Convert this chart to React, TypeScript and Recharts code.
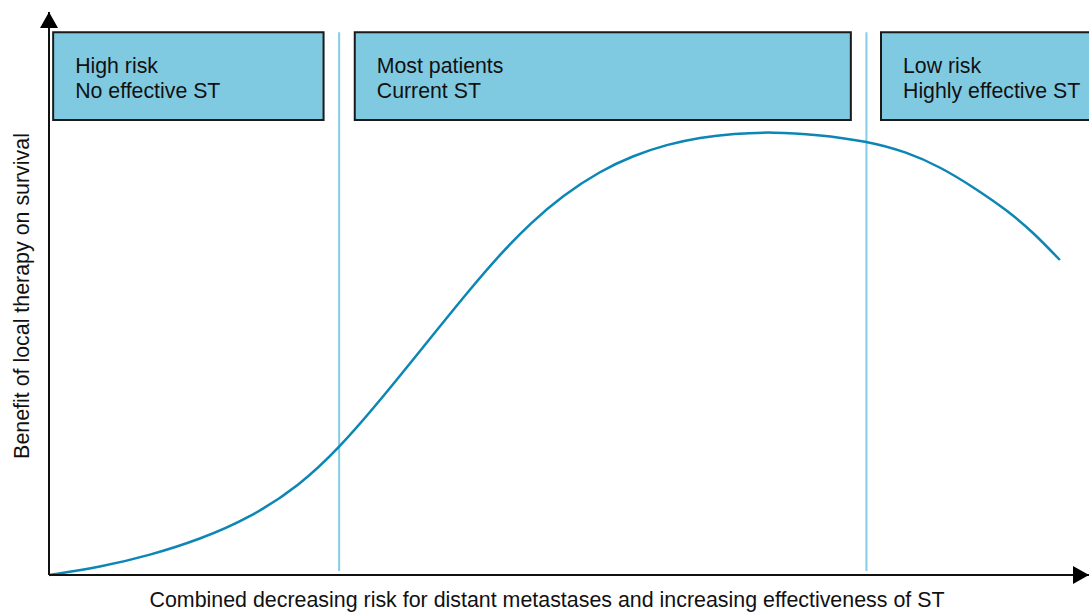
import { LineChart, Line, XAxis, YAxis, ReferenceArea, ReferenceLine, ReferenceDot, Label } from 'recharts';

// conceptual curve: position along the risk/effectiveness axis vs. benefit
const position = [0, 4.9, 9.7, 14.5, 19.3, 24.1, 27.9, 31.8, 36.6, 40.5, 43.4, 46.3, 49.4, 53.0, 56.2, 59.4, 62.6, 65.8, 69.6, 73.8, 78.6, 82.5, 85.7, 88.8, 92.1, 94.6, 97.2];
const benefit = [0, 1.37, 3.5, 6.31, 10.12, 15.9, 22.56, 30.91, 41.92, 50.8, 57.02, 62.52, 67.41, 71.76, 74.51, 76.47, 77.71, 78.42, 78.69, 78.24, 77.09, 75.13, 72.47, 69.0, 64.83, 60.93, 55.95];

// patient groups along the x axis
const groupTitles = ['High risk', 'Most patients', 'Low risk'];
const groupSubtitles = ['No effective ST', 'Current ST', 'Highly effective ST'];
const groupStart = [0.4, 29.4, 80.0];
const groupEnd = [26.4, 77.1, 102];
const groupTop = 96.4;
const groupBottom = 80.8;

// boundaries between groups
const dividers = [27.9, 78.6];

const xTitle = 'Combined decreasing risk for distant metastases and increasing effectiveness of ST';
const yTitle = 'Benefit of local therapy on survival';

const FONT = '"Liberation Sans", Arial, sans-serif';
const BOX_FILL = '#80cae1';
const CURVE = '#0b86b5';
const DIVIDER = '#85cde4';

const chartData = position.map((x, i) => ({ x, benefit: benefit[i] }));

function boxLabel(title: string, subtitle: string) {
  return (props: any) => {
    const vb = props.viewBox || {};
    return (
      <text x={vb.x + 22} y={vb.y + 41} fontSize={21.3} fontFamily={FONT} fill="#111">
        <tspan x={vb.x + 22}>{title}</tspan>
        <tspan x={vb.x + 22} dy={25}>{subtitle}</tspan>
      </text>
    );
  };
}

export default function App() {
  return (
    <div style={{ position: 'absolute', left: 0, top: 0, width: 1089, height: 612, background: '#fff' }}>
      <LineChart width={1089} height={612} data={chartData} margin={{ top: 12, right: 0, bottom: 0, left: 0 }}>
        <XAxis
          dataKey="x"
          type="number"
          domain={[0, 100]}
          height={37}
          tick={false}
          tickLine={false}
          axisLine={{ stroke: '#111', strokeWidth: 2 }}
        >
          <Label
            content={() => (
              <text x={547} y={607} textAnchor="middle" fontSize={21.4} fontFamily={FONT} fill="#111">
                {xTitle}
              </text>
            )}
          />
        </XAxis>
        <YAxis
          type="number"
          domain={[0, 100]}
          width={49}
          tick={false}
          tickLine={false}
          axisLine={{ stroke: '#111', strokeWidth: 2 }}
        >
          <Label
            content={() => (
              <text
                x={29}
                y={296}
                transform="rotate(-90, 29, 296)"
                textAnchor="middle"
                fontSize={21.4}
                fontFamily={FONT}
                fill="#111"
              >
                {yTitle}
              </text>
            )}
          />
        </YAxis>

        {groupTitles.map((t, i) => (
          <ReferenceArea
            key={t}
            x1={groupStart[i]}
            x2={groupEnd[i]}
            y1={groupBottom}
            y2={groupTop}
            fill={BOX_FILL}
            fillOpacity={1}
            stroke="#1a1a1a"
            strokeWidth={2}
            ifOverflow="visible"
            label={boxLabel(t, groupSubtitles[i])}
          />
        ))}

        {dividers.map((d) => (
          <ReferenceLine
            key={d}
            segment={[{ x: d, y: groupTop }, { x: d, y: 0.7 }]}
            stroke={DIVIDER}
            strokeWidth={2}
            ifOverflow="visible"
          />
        ))}

        <ReferenceDot
          x={0}
          y={100}
          ifOverflow="visible"
          shape={(p: any) => (
            <polygon points={`${p.cx},${p.cy} ${p.cx - 9},${p.cy + 16} ${p.cx + 9},${p.cy + 16}`} fill="#000" />
          )}
        />
        <ReferenceDot
          x={100}
          y={0}
          ifOverflow="visible"
          shape={(p: any) => (
            <polygon points={`${p.cx},${p.cy} ${p.cx - 16},${p.cy - 9} ${p.cx - 16},${p.cy + 9}`} fill="#000" />
          )}
        />

        <Line
          type="basis"
          dataKey="benefit"
          stroke={CURVE}
          strokeWidth={2.5}
          dot={false}
          isAnimationActive={false}
        />
      </LineChart>
    </div>
  );
}
